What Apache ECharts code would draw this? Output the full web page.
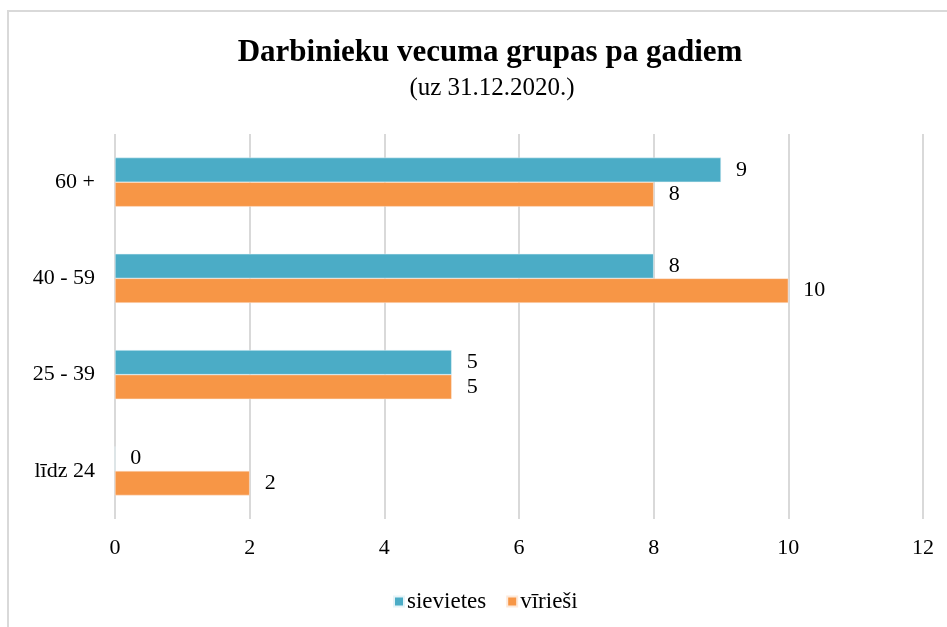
<!DOCTYPE html>
<html>
<head>
<meta charset="utf-8">
<script src="https://cdn.jsdelivr.net/npm/echarts@6/dist/echarts.min.js"></script>
<style>
  html, body { margin: 0; padding: 0; background: #fff; }
  #chart { width: 947px; height: 627px; }
</style>
</head>
<body>
<div id="chart"></div>
<script>
// vecuma grupas (no apakšas uz augšu)
var categories = ['līdz 24', '25 - 39', '40 - 59', '60 +'];
var sievietes = [0, 5, 8, 9];
var virieshi = [2, 5, 10, 8];
var xTicks = [0, 2, 4, 6, 8, 10, 12];

var font = '"Liberation Serif", "Times New Roman", serif';
var colors = { s: '#4bacc6', v: '#f79646' };

var chart = echarts.init(document.getElementById('chart'));
chart.setOption({
  animation: false,
  textStyle: { fontFamily: font },
  title: [
    {
      text: 'Darbinieku vecuma grupas pa gadiem',
      left: 485, top: 32, textAlign: 'center',
      textStyle: { fontFamily: font, fontSize: 31, fontWeight: 'bold', color: '#000' }
    },
    {
      text: '(uz 31.12.2020.)',
      left: 487, top: 71, textAlign: 'center',
      textStyle: { fontFamily: font, fontSize: 25, fontWeight: 'normal', color: '#000' }
    }
  ],
  graphic: [{
    type: 'rect',
    shape: { x: 8, y: 11, width: 1000, height: 1000 },
    style: { fill: 'none', stroke: '#d9d9d9', lineWidth: 2 },
    silent: true
  }],
  legend: {
    data: ['sievietes', 'vīrieši'],
    left: 388, top: 585,
    itemWidth: 10, itemHeight: 10, itemGap: 20,
    icon: 'rect',
    textStyle: { fontFamily: font, fontSize: 23, color: '#000', padding: [0, 0, 0, -2] }
  },
  grid: { left: 115, right: 24, top: 134, bottom: 108, containLabel: false },
  xAxis: {
    type: 'value',
    min: xTicks[0], max: xTicks[xTicks.length - 1], interval: 2,
    axisLine: { show: false },
    axisTick: { show: false },
    axisLabel: { fontFamily: font, fontSize: 22, color: '#000', margin: 18 },
    splitLine: { lineStyle: { color: '#d9d9d9', width: 2 } }
  },
  yAxis: {
    type: 'category',
    data: categories,
    axisLine: { show: false },
    axisTick: { show: false },
    axisLabel: { fontFamily: font, fontSize: 22, color: '#000', margin: 20 }
  },
  series: [
    {
      name: 'sievietes', type: 'bar', data: sievietes,
      barGap: '0%', barCategoryGap: '49%',
      itemStyle: { color: colors.s, borderColor: '#e6f4f8', borderWidth: 0.5 },
      label: { show: true, position: 'right', distance: 15, fontFamily: font, fontSize: 22, color: '#000' }
    },
    {
      name: 'vīrieši', type: 'bar', data: virieshi,
      barGap: '0%', barCategoryGap: '49%',
      itemStyle: { color: colors.v, borderColor: '#fde9da', borderWidth: 0.5 },
      label: { show: true, position: 'right', distance: 15, fontFamily: font, fontSize: 22, color: '#000' }
    }
  ]
});
</script>
</body>
</html>
